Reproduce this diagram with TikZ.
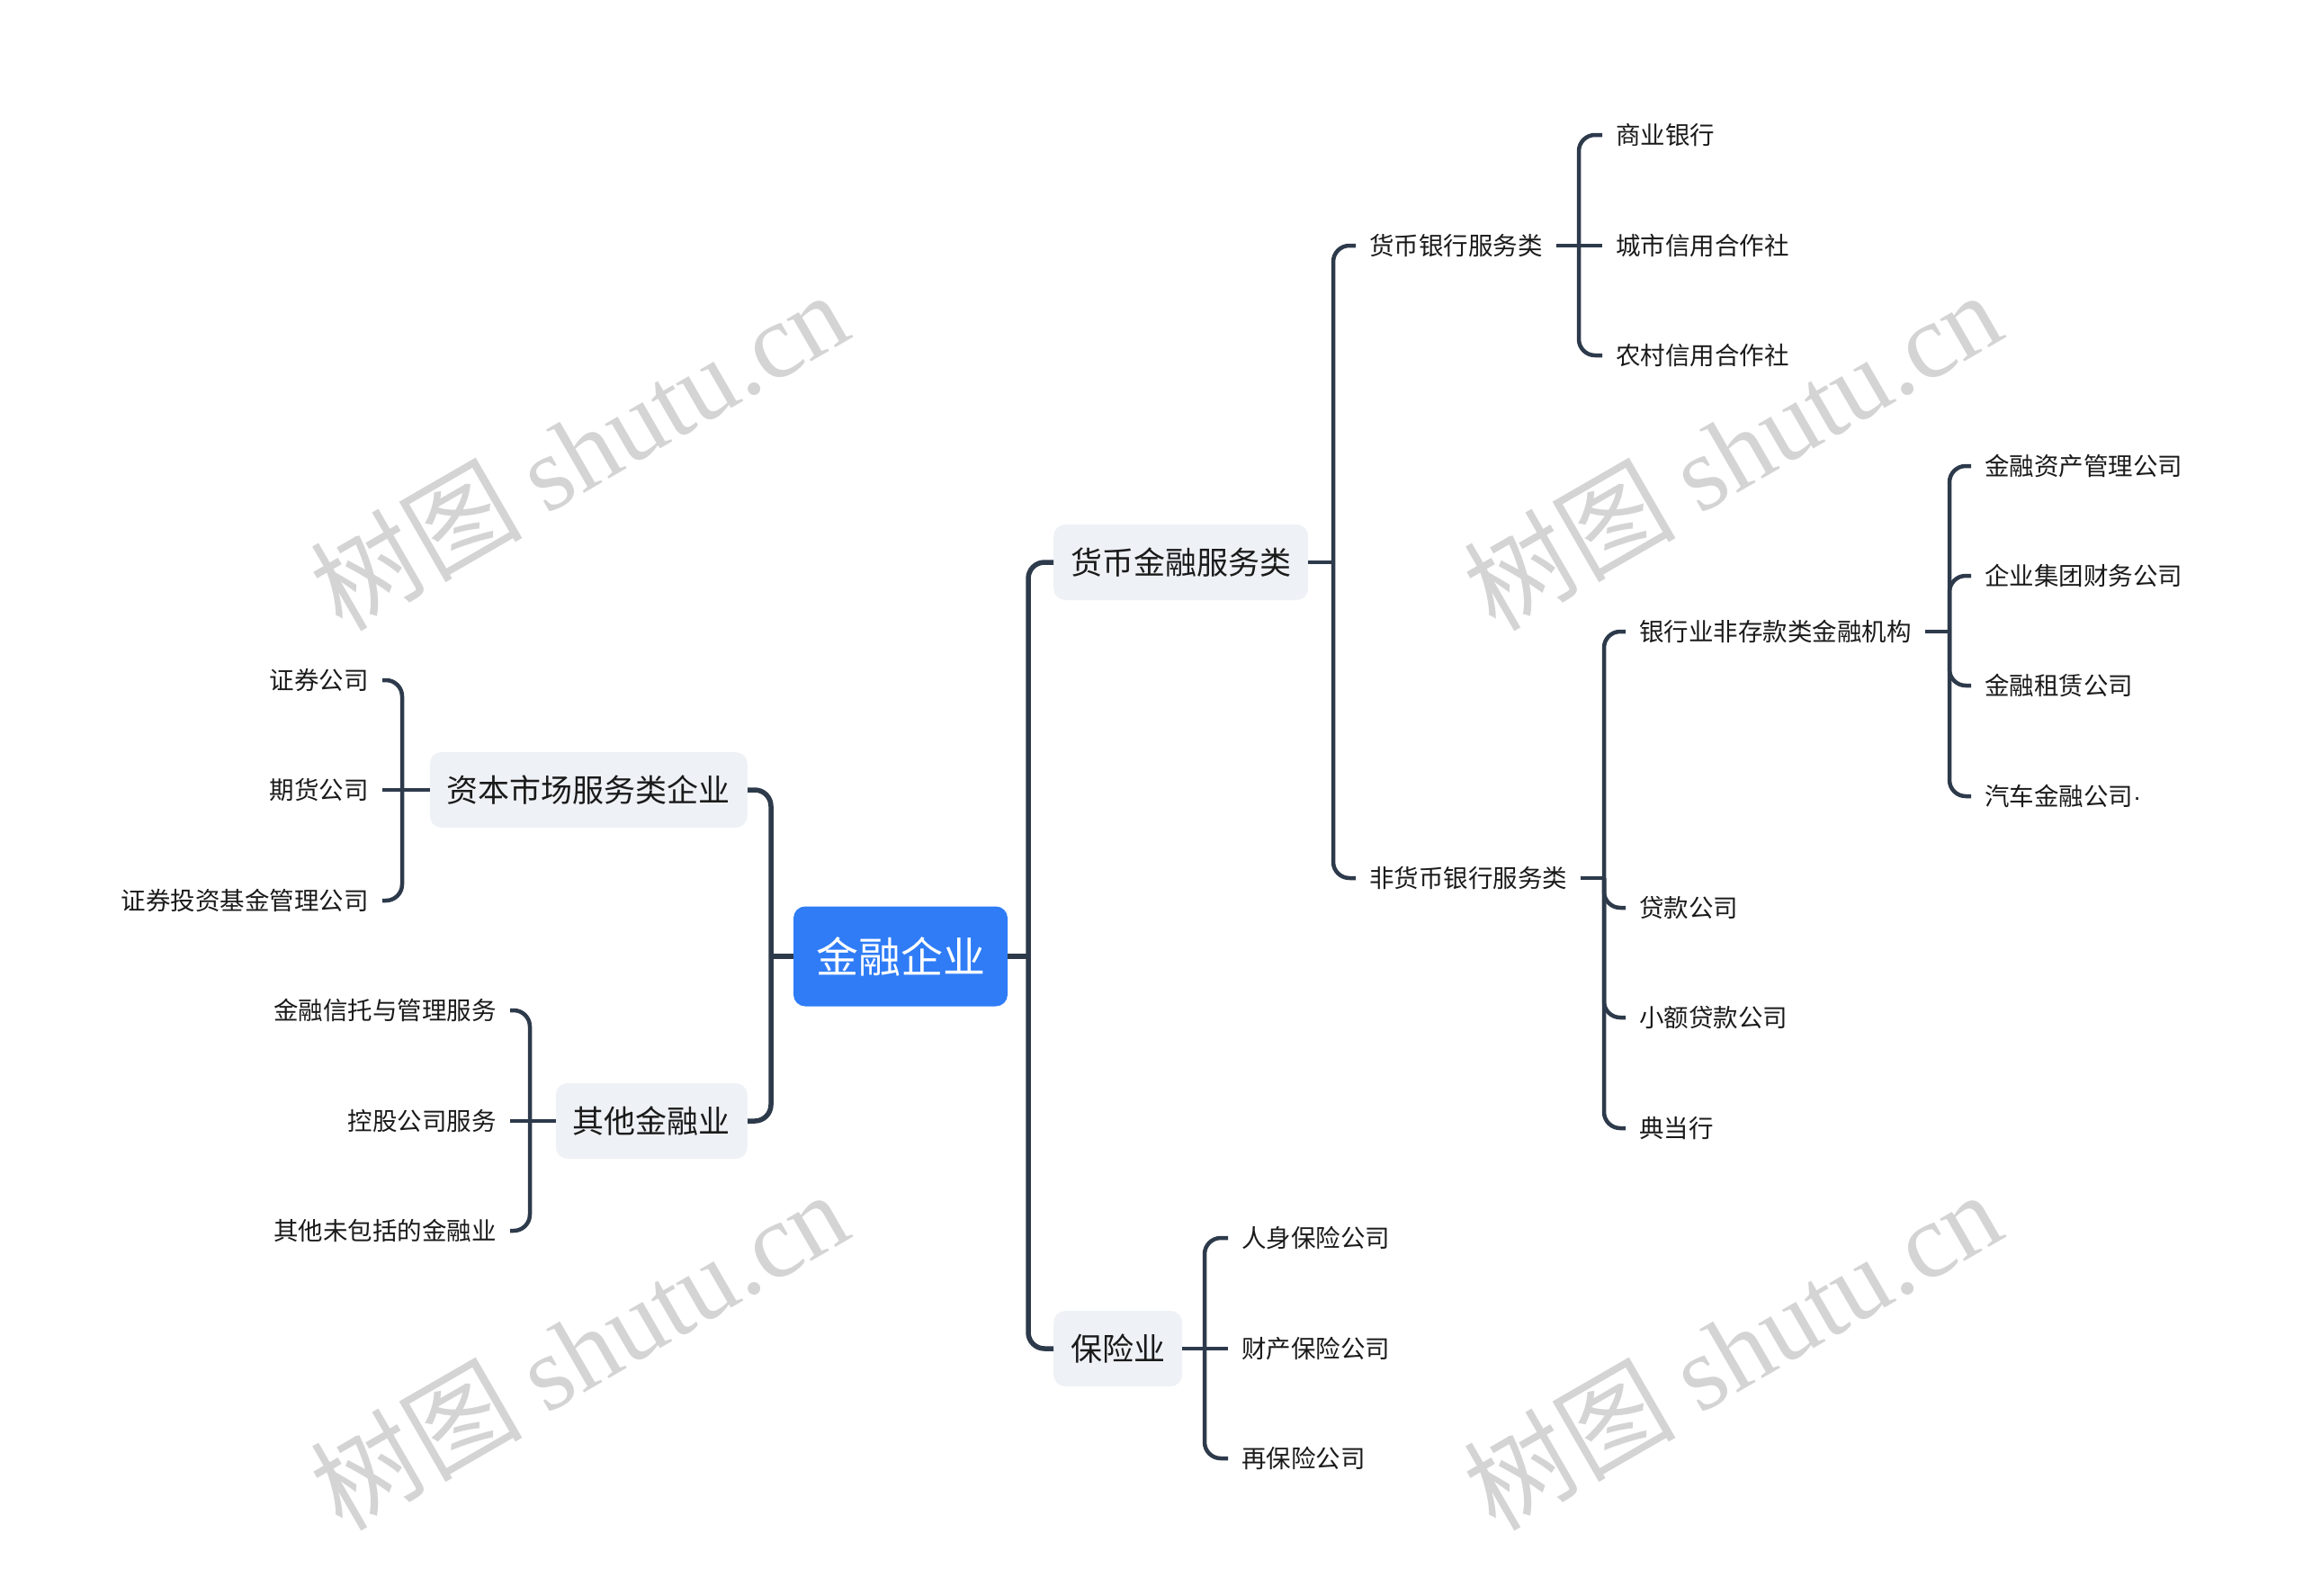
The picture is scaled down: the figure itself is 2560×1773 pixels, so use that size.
\documentclass[tikz,border=0pt]{standalone}
\usepackage{fontspec}
\setmainfont{Noto Sans CJK SC}
\newfontfamily\cjk{Noto Sans CJK SC}
\newfontfamily\wmserif{Liberation Serif}
\newfontfamily\latinsans{Liberation Sans}
\usetikzlibrary{calc}
\definecolor{linec}{HTML}{2D3A4B}
\definecolor{boxfill}{HTML}{EEF1F5}
\definecolor{rootblue}{HTML}{2F7CF6}
\definecolor{textc}{HTML}{1A1A1A}
\definecolor{wmc}{HTML}{D4D4D4}
\begin{document}
\begin{tikzpicture}[x=1pt,y=-1pt,
  rootbox/.style={fill=rootblue, rounded corners=13pt, minimum width=238pt, minimum height=111pt, inner sep=0pt, text=white, font=\fontsize{47pt}{56pt}\selectfont},
  lonebox/.style={fill=boxfill, rounded corners=13pt, minimum height=84pt, inner xsep=19pt, inner ysep=0pt, text=textc, font=\fontsize{35pt}{42pt}\selectfont},
  leaf/.style={inner xsep=15pt, inner ysep=4pt, text=textc, font=\fontsize{27.5pt}{33pt}\selectfont},
  connA/.style={draw=linec, line width=5.5pt},
  connB/.style={draw=linec, line width=4.5pt},
  wm/.style={text=wmc, rotate=30, font=\fontsize{118pt}{128pt}\selectfont}
]
\useasboundingbox (0,0) rectangle (2560,1773);

% watermarks
\node[wm] (wm1) at (643,500) {{\cjk 树图} {\wmserif shutu.cn}};
\node[wm] (wm2) at (1925,500) {{\cjk 树图} {\wmserif shutu.cn}};
\node[wm] (wm3) at (643,1500) {{\cjk 树图} {\wmserif shutu.cn}};
\node[wm] (wm4) at (1925,1500) {{\cjk 树图} {\wmserif shutu.cn}};

% root
\node[rootbox] (root) at (1001,1063) {金融企业};

% level 1
\node[lonebox, anchor=west] (hb) at (1171,625) {货币金融服务类};
\node[lonebox, anchor=west] (bx) at (1171,1499) {保险业};
\node[lonebox, anchor=east] (zb) at (831,878) {资本市场服务类企业};
\node[lonebox, anchor=east] (qt) at (831,1246) {其他金融业};

% level 2 right
\node[leaf, anchor=west] (hbyh) at (1507,273) {货币银行服务类};
\node[leaf, anchor=west] (fhb) at (1507,976) {非货币银行服务类};

\node[leaf, anchor=west] (syyh) at (1781,150) {商业银行};
\node[leaf, anchor=west] (csxy) at (1781,273) {城市信用合作社};
\node[leaf, anchor=west] (ncxy) at (1781,395) {农村信用合作社};

\node[leaf, anchor=west] (yhy) at (1807,702) {银行业非存款类金融机构};
\node[leaf, anchor=west] (dkgs) at (1807,1009) {贷款公司};
\node[leaf, anchor=west] (xedk) at (1807,1131) {小额贷款公司};
\node[leaf, anchor=west] (ddh) at (1807,1254) {典当行};

\node[leaf, anchor=west] (jrzc) at (2191,518) {金融资产管理公司};
\node[leaf, anchor=west] (qyjt) at (2191,640) {企业集团财务公司};
\node[leaf, anchor=west] (jrzl) at (2191,762) {金融租赁公司};
\node[leaf, anchor=west] (qcjr) at (2191,885) {汽车金融公司{\latinsans ·}};

\node[leaf, anchor=west] (rsbx) at (1365,1376) {人身保险公司};
\node[leaf, anchor=west] (ccbx) at (1365,1499) {财产保险公司};
\node[leaf, anchor=west] (zbx) at (1365,1621) {再保险公司};

% left leaves
\node[leaf, anchor=east] (zqgs) at (425,756) {证券公司};
\node[leaf, anchor=east] (qhgs) at (425,878) {期货公司};
\node[leaf, anchor=east] (zqtz) at (425,1001) {证券投资基金管理公司};

\node[leaf, anchor=east] (jrxt) at (567,1123) {金融信托与管理服务};
\node[leaf, anchor=east] (kggs) at (567,1246) {控股公司服务};
\node[leaf, anchor=east] (qtwb) at (567,1368) {其他未包括的金融业};

% junction coordinates
\coordinate (jR) at (1143,1063);
\coordinate (jL) at (857,1063);
\coordinate (jhb) at (1482,625);
\coordinate (jhbyh) at (1755,273);
\coordinate (jfhb) at (1783,976);
\coordinate (jyhy) at (2167,702);
\coordinate (jbx) at (1339,1499);
\coordinate (jzb) at (447,878);
\coordinate (jqt) at (589,1246);

% root connectors
\draw[connA] (root.east) -- (jR);
\draw[connA, rounded corners=18pt] (jR) |- (hb.west);
\draw[connA, rounded corners=18pt] (jR) |- (bx.west);
\draw[connA] (root.west) -- (jL);
\draw[connA, rounded corners=18pt] (jL) |- (zb.east);
\draw[connA, rounded corners=18pt] (jL) |- (qt.east);

% 货币金融服务类
\draw[connB] (hb.east) -- (jhb);
\draw[connB, rounded corners=18pt] (jhb) |- (hbyh.west);
\draw[connB, rounded corners=18pt] (jhb) |- (fhb.west);

% 货币银行服务类
\draw[connB] (hbyh.east) -- (jhbyh);
\draw[connB, rounded corners=18pt] (jhbyh) |- (syyh.west);
\draw[connB] (jhbyh) -- (csxy.west);
\draw[connB, rounded corners=18pt] (jhbyh) |- (ncxy.west);

% 非货币银行服务类
\draw[connB] (fhb.east) -- (jfhb);
\draw[connB, rounded corners=18pt] (jfhb) |- (yhy.west);
\draw[connB, rounded corners=18pt] (jfhb) |- (dkgs.west);
\draw[connB, rounded corners=18pt] (jfhb) |- (xedk.west);
\draw[connB, rounded corners=18pt] (jfhb) |- (ddh.west);

% 银行业非存款类金融机构
\draw[connB] (yhy.east) -- (jyhy);
\draw[connB, rounded corners=18pt] (jyhy) |- (jrzc.west);
\draw[connB, rounded corners=18pt] (jyhy) |- (qyjt.west);
\draw[connB, rounded corners=18pt] (jyhy) |- (jrzl.west);
\draw[connB, rounded corners=18pt] (jyhy) |- (qcjr.west);

% 保险业
\draw[connB] (bx.east) -- (jbx);
\draw[connB, rounded corners=18pt] (jbx) |- (rsbx.west);
\draw[connB] (jbx) -- (ccbx.west);
\draw[connB, rounded corners=18pt] (jbx) |- (zbx.west);

% 资本市场服务类企业
\draw[connB] (zb.west) -- (jzb);
\draw[connB, rounded corners=18pt] (jzb) |- (zqgs.east);
\draw[connB] (jzb) -- (qhgs.east);
\draw[connB, rounded corners=18pt] (jzb) |- (zqtz.east);

% 其他金融业
\draw[connB] (qt.west) -- (jqt);
\draw[connB, rounded corners=18pt] (jqt) |- (jrxt.east);
\draw[connB] (jqt) -- (kggs.east);
\draw[connB, rounded corners=18pt] (jqt) |- (qtwb.east);
\end{tikzpicture}
\end{document}
